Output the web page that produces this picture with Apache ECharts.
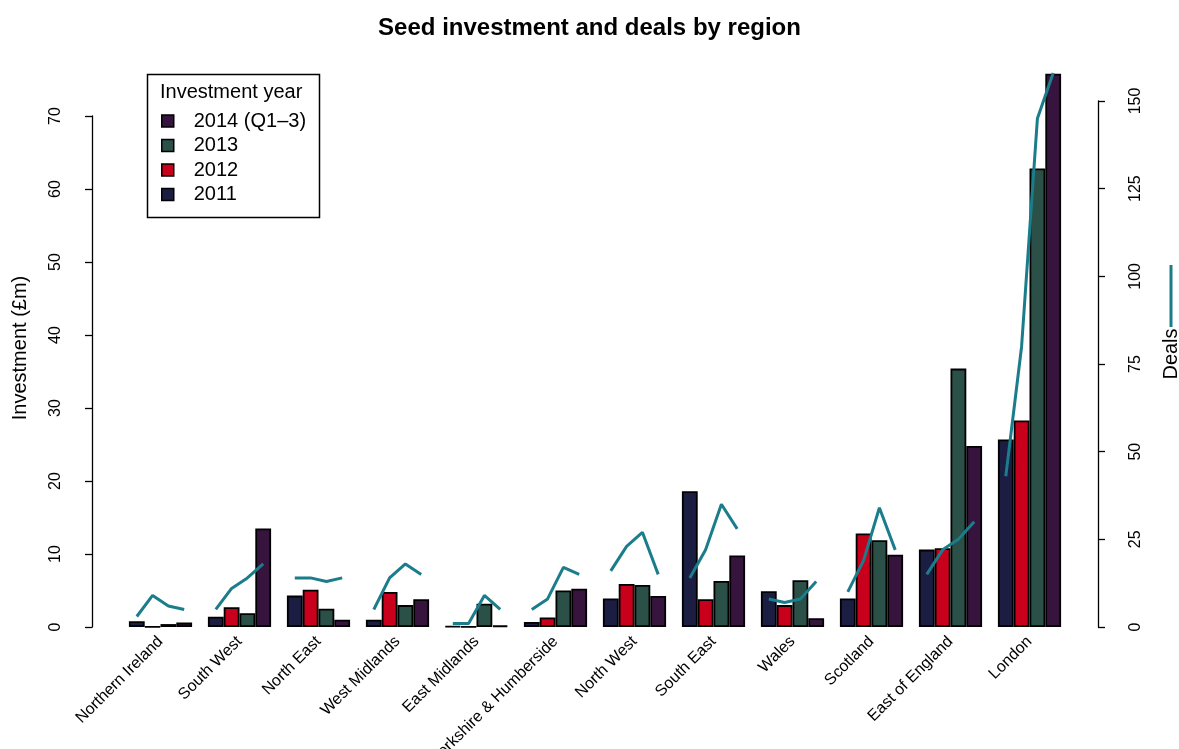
<!DOCTYPE html>
<html>
<head>
<meta charset="utf-8">
<script src="https://cdn.jsdelivr.net/npm/echarts@6/dist/echarts.min.js"></script>
<style>
html,body{margin:0;padding:0;background:#fff;}
#chart{width:1179px;height:749px;}
</style>
</head>
<body>
<div id="chart"></div>
<script>
// ---- data ----
var regions = ['Northern Ireland','South West','North East','West Midlands','East Midlands','Yorkshire & Humberside','North West','South East','Wales','Scotland','East of England','London'];
var years = ['2011','2012','2013','2014 (Q1\u20133)'];
var inv2011 = [0.8, 1.4, 4.3, 1.0, 0.1, 0.7, 3.9, 18.6, 4.9, 3.9, 10.6, 25.7];
var inv2012 = [0.05, 2.7, 5.1, 4.8, 0.05, 1.3, 5.9, 3.8, 3.0, 12.8, 10.8, 28.3];
var inv2013 = [0.4, 1.9, 2.5, 3.0, 3.2, 5.0, 5.75, 6.3, 6.4, 11.9, 35.4, 62.8];
var inv2014 = [0.6, 13.5, 1.0, 3.8, 0.2, 5.25, 4.25, 9.8, 1.2, 9.9, 24.8, 75.8];
var deals2011 = [3, 5, 14, 5, 1, 5, 16, 14, 8, 10, 15, 43];
var deals2012 = [9, 11, 14, 14, 1, 8, 23, 22, 7, 19, 22, 80];
var deals2013 = [6, 14, 13, 18, 9, 17, 27, 35, 8, 34, 25, 145];
var deals2014 = [5, 18, 14, 15, 5, 15, 15, 28, 13, 22, 30, 158];
var invTicks = [0, 10, 20, 30, 40, 50, 60, 70];
var dealTicks = [0, 25, 50, 75, 100, 125, 150];

// ---- styling ----
var colors = ['#1b1d43', '#c9001b', '#2a5048', '#36143e'];
var lineColor = '#1b7d8b';
var font = '"Liberation Sans", Arial, Helvetica, sans-serif';
var catGap = 0.2; // fraction of a category band left empty
var barFrac = (1 - catGap) / years.length;

var invSeries = [inv2011, inv2012, inv2013, inv2014];
var dealSeries = [deals2011, deals2012, deals2013, deals2014];

// deals line: one segment per region, points at the bar centres
var lineData = [];
regions.forEach(function (r, i) {
  dealSeries.forEach(function (d, j) {
    lineData.push([i + 0.5 + (j - (years.length - 1) / 2) * barFrac, d[i]]);
  });
  lineData.push([i + 1, '-']);
});

var barSeries = years.map(function (y, j) {
  return {
    name: y,
    type: 'bar',
    xAxisIndex: 0,
    yAxisIndex: 0,
    clip: false,
    barGap: '0%',
    barCategoryGap: (catGap * 100) + '%',
    itemStyle: {color: colors[j], borderColor: '#000', borderWidth: 1.8},
    emphasis: {disabled: true},
    data: invSeries[j]
  };
});

var option = {
  animation: false,
  backgroundColor: '#fff',
  textStyle: {fontFamily: font},
  title: {
    text: 'Seed investment and deals by region',
    left: 'center', top: 11,
    textStyle: {fontFamily: font, fontSize: 24, fontWeight: 'bold', color: '#000'}
  },
  legend: {
    data: years.slice().reverse(),
    orient: 'vertical',
    left: 161, top: 111,
    padding: 0,
    itemWidth: 12, itemHeight: 12,
    itemGap: 4.5,
    icon: 'rect',
    selectedMode: false,
    itemStyle: {borderColor: '#000', borderWidth: 1.5},
    textStyle: {fontFamily: font, fontSize: 20, color: '#000', padding: [0, 0, 0, 15], lineHeight: 20}
  },
  grid: [
    {left: 121, right: 110, top: 116, bottom: 122, containLabel: false, outerBoundsMode: 'none'},
    {left: 121, right: 110, top: 101, bottom: 122, containLabel: false, outerBoundsMode: 'none'}
  ],
  xAxis: [
    {
      type: 'category', gridIndex: 0, data: regions,
      axisLine: {show: false}, axisTick: {show: false}, splitLine: {show: false},
      axisLabel: {rotate: 45, interval: 0, margin: 12, fontFamily: font, fontSize: 16, color: '#000'}
    },
    {
      type: 'value', gridIndex: 1, min: 0, max: regions.length, show: false
    }
  ],
  yAxis: [
    {
      type: 'value', gridIndex: 0, min: invTicks[0], max: invTicks[invTicks.length - 1], interval: invTicks[1] - invTicks[0],
      position: 'left', offset: 29,
      axisLine: {show: true, onZero: false, lineStyle: {color: '#000', width: 1.3}},
      axisTick: {show: true, length: 7, lineStyle: {color: '#000', width: 1.3}},
      splitLine: {show: false},
      axisLabel: {rotate: 90, margin: 28, fontFamily: font, fontSize: 16, color: '#000'}
    },
    {
      type: 'value', gridIndex: 1, min: dealTicks[0], max: dealTicks[dealTicks.length - 1], interval: dealTicks[1] - dealTicks[0],
      position: 'right', offset: 29,
      axisLine: {show: true, onZero: false, lineStyle: {color: '#000', width: 1.3}},
      axisTick: {show: true, length: 7, lineStyle: {color: '#000', width: 1.3}},
      splitLine: {show: false},
      axisLabel: {rotate: 90, margin: 30, fontFamily: font, fontSize: 16, color: '#000'}
    }
  ],
  series: barSeries.concat([{
    name: 'Deals',
    type: 'line',
    xAxisIndex: 1,
    yAxisIndex: 1,
    clip: false,
    symbol: 'none',
    connectNulls: false,
    lineStyle: {color: lineColor, width: 3},
    emphasis: {disabled: true},
    data: lineData,
    z: 5
  }]),
  graphic: [
    {type: 'rect', left: 145, top: 72, shape: {width: 172, height: 143},
     style: {fill: 'none', stroke: '#000', lineWidth: 1.5}, z: 10},
    {type: 'text', x: 160, y: 92,
     style: {text: 'Investment year', fontFamily: font, fontSize: 20, fill: '#000', align: 'left', verticalAlign: 'middle'}, z: 10},
    {type: 'text', x: 20, y: 348, rotation: Math.PI / 2,
     style: {text: 'Investment (\u00a3m)', fontFamily: font, fontSize: 20, fill: '#000', align: 'center', verticalAlign: 'middle'}},
    {type: 'text', x: 1171, y: 354, rotation: Math.PI / 2,
     style: {text: 'Deals', fontFamily: font, fontSize: 20, fill: '#000', align: 'center', verticalAlign: 'middle'}},
    {type: 'line', shape: {x1: 1171, y1: 265, x2: 1171, y2: 327},
     style: {stroke: lineColor, lineWidth: 3}}
  ]
};

var chart = echarts.init(document.getElementById('chart'), null, {renderer: 'canvas'});
chart.setOption(option);
</script>
</body>
</html>
